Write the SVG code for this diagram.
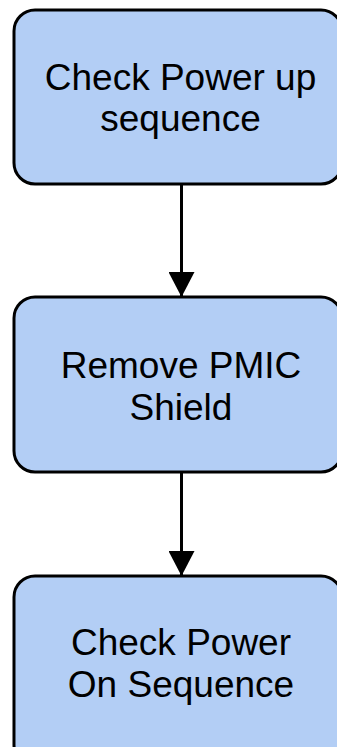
<svg xmlns="http://www.w3.org/2000/svg" width="337" height="747" viewBox="0 0 337 747">
  <style>
    .box { fill: #b3cef5; stroke: #000; stroke-width: 3; }
    .lbl { font-family: "Liberation Sans", Arial, sans-serif; font-size: 37px; fill: #000; text-anchor: middle; }
    .edge { stroke: #000; stroke-width: 3; fill: none; }
  </style>
  <defs>
    <marker id="arrow" markerUnits="userSpaceOnUse" markerWidth="26" markerHeight="26" refX="25" refY="13" orient="auto">
      <path d="M0,0 L25,13 L0,26 Z" fill="#000"/>
    </marker>
  </defs>
  <rect width="337" height="747" fill="#fff"/>
  <g id="connectors">
    <line class="edge" x1="181.5" y1="185" x2="181.5" y2="297" marker-end="url(#arrow)"/>
    <line class="edge" x1="181.5" y1="473" x2="181.5" y2="576" marker-end="url(#arrow)"/>
  </g>
  <g id="node-power-up">
    <rect class="box" x="14" y="10" width="328" height="174" rx="21"/>
    <text class="lbl" x="180.5" y="90">Check Power up</text>
    <text class="lbl" x="180.5" y="131">sequence</text>
  </g>
  <g id="node-remove-shield">
    <rect class="box" x="14" y="297" width="328" height="175" rx="21"/>
    <text class="lbl" x="181" y="378">Remove PMIC</text>
    <text class="lbl" x="181" y="420">Shield</text>
  </g>
  <g id="node-power-on">
    <rect class="box" x="14" y="576" width="328" height="190" rx="21"/>
    <text class="lbl" x="181" y="655">Check Power</text>
    <text class="lbl" x="181" y="697">On Sequence</text>
  </g>
</svg>
